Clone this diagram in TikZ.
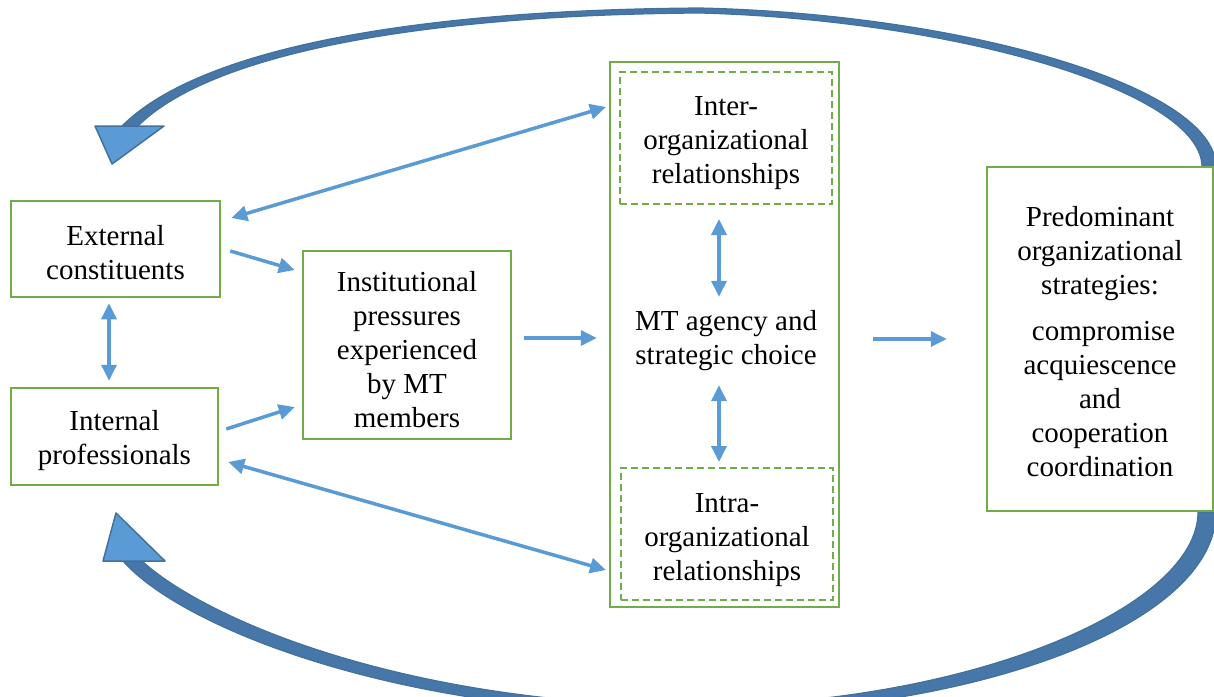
\documentclass[tikz,border=0pt]{standalone}
\usepackage{fontspec}
\setmainfont{Liberation Serif}
\usetikzlibrary{arrows.meta,calc}
\definecolor{boxgreen}{HTML}{70AD47}
\definecolor{linkblue}{HTML}{5B9BD5}
\definecolor{loopedge}{HTML}{41719C}
\definecolor{loopfill}{HTML}{4777A8}

\begin{document}
\begin{tikzpicture}[x=1pt,y=-1pt,
  every node/.style={font=\rmfamily\fontsize{29}{34}\selectfont, align=center},
  every label/.style={inner sep=0pt},
  box/.style={draw=boxgreen, line width=2.5pt, inner sep=0pt},
  dashbox/.style={draw=boxgreen, line width=2pt, dash pattern=on 7pt off 4pt, inner sep=0pt},
  link/.style={draw=linkblue, line width=3.5pt, -{Triangle[length=16pt,width=15pt]}},
  bilink/.style={link, {Triangle[length=16pt,width=15pt]}-{Triangle[length=16pt,width=15pt]}},
  loopshaft/.style={fill=loopfill, draw=loopedge, line width=1.2pt, line join=round},
  loophead/.style={fill=linkblue, draw=loopedge, line width=1.5pt, line join=round}]

\useasboundingbox (0,0) rectangle (1214,696);
\clip (0,0) rectangle (1214,696);

% feedback loop over the top
\draw[loopshaft] (1216,167) .. controls (1216,86) and (962,14) .. (700,8)
  .. controls (398,10) and (196,52) .. (122,126)
  -- (138,126)
  .. controls (206,58) and (402,15) .. (700,13)
  .. controls (958,20) and (1202,92) .. (1202,167) -- cycle;
\draw[loophead] (95,126) -- (112,164) -- (164,126) -- cycle;

% feedback loop along the bottom
\draw[loopshaft] (1216,512) .. controls (1216,622) and (984,712) .. (700,714)
  .. controls (396,716) and (180,626) .. (123,561)
  -- (142,561)
  .. controls (204,618) and (404,706) .. (700,706)
  .. controls (976,703) and (1198,606) .. (1198,512) -- cycle;
\draw[loophead] (103,561) -- (116,513) -- (165,561) -- cycle;

% boxes
\node[box, minimum width=209pt, minimum height=96pt,
  label={[yshift=-4pt]center:{External\\constituents}}] (ext) at (115.5,249) {};
\node[box, minimum width=207pt, minimum height=97pt,
  label={[yshift=-4pt]center:{Internal\\professionals}}] (int) at (114.5,436.5) {};
\node[box, minimum width=208pt, minimum height=188pt,
  label={[yshift=-5pt]center:{Institutional\\pressures\\experienced\\by MT\\members}}] (inst) at (407,345) {};
\node[box, minimum width=229pt, minimum height=545pt] (outer) at (724.5,334.5) {};
\node[dashbox, minimum width=212pt, minimum height=132pt,
  label={[yshift=-5pt]center:{Inter-\\organizational\\relationships}}] (inter) at (726,138) {};
\node[dashbox, minimum width=212pt, minimum height=132pt,
  label={[yshift=-6pt]center:{Intra-\\organizational\\relationships}}] (intra) at (727,534) {};
\node[inner sep=0pt, minimum height=84pt] (agency) at (726,341)
  {MT agency and\\strategic choice};
\node[box, minimum width=226pt, minimum height=344pt,
  label={[yshift=-3pt]center:{Predominant\\organizational\\strategies:\\[12pt]\ compromise\\acquiescence\\and\\cooperation\\coordination}}] (pred) at (1100,339) {};

% connectors
\draw[bilink] ([shift={(10,-31)}]ext.east) -- ([shift={(-13,-31)}]inter.west);
\draw[link] ([shift={(9,2)}]ext.east) -- ([shift={(-7,-75)}]inst.west);
\draw[link] ([shift={(7,-7.5)}]int.east) -- ([shift={(-7,62)}]inst.west);
\draw[bilink] ([shift={(9,25.5)}]int.east) -- ([shift={(-14,36)}]intra.west);
\draw[bilink] ([shift={(-6.5,5)}]ext.south) -- ([shift={(-5.5,-6)}]int.north);
\draw[link] ([shift={(12,-7)}]inst.east) -- ([shift={(-12,3.5)}]outer.west);
\draw[bilink] ([shift={(-7,14)}]inter.south) -- ([shift={(-7,-2)}]agency.north);
\draw[bilink] ([shift={(-7,2)}]agency.south) -- ([shift={(-8,-5)}]intra.north);
\draw[link] ([shift={(33,4.5)}]outer.east) -- ([shift={(-39,0)}]pred.west);

\end{tikzpicture}
\end{document}
